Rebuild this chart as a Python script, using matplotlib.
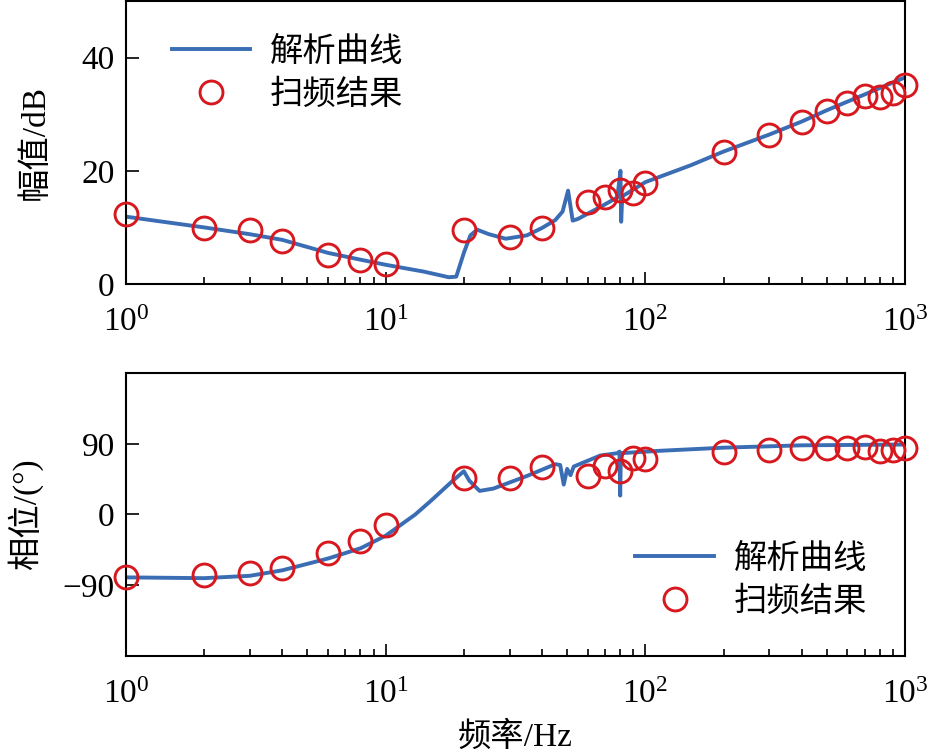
import numpy as np
import matplotlib
matplotlib.use("Agg")
import matplotlib.pyplot as plt
from matplotlib.ticker import LogLocator, NullFormatter

plt.rcParams['font.family'] = ['Liberation Serif', 'Noto Sans CJK SC']
plt.rcParams['mathtext.fontset'] = 'stix'
plt.rcParams['axes.unicode_minus'] = True

# analytical curve
f_mag = [1, 2, 3, 4, 6, 8, 10, 14, 17.5, 18.7, 20, 21.2, 22.5, 25, 29, 35, 40, 45,
         48, 50.4, 52.5, 55, 67, 78, 80.2, 80.7, 81.5, 90, 100, 150, 200, 300, 400,
         500, 700, 1000]
mag = [11.9, 10.0, 8.8, 7.8, 5.5, 4.3, 3.4, 2.2, 1.2, 1.3, 5.5, 8.6, 9.6, 8.8, 8.0,
       8.6, 9.9, 11.3, 12.8, 16.5, 11.2, 11.5, 13.6, 15.3, 20.0, 11.0, 15.5, 16.7,
       18.0, 21.0, 23.4, 26.4, 28.7, 30.7, 33.5, 36.5]

f_ph = [1, 2, 3, 4, 6, 8, 10, 13, 15, 18, 20, 21, 23, 26, 35, 45, 47, 48.5, 50,
        51.5, 53, 67, 78, 79.5, 80, 80.5, 90, 113, 200, 400, 1000]
phase = [-80, -81, -78, -71, -56, -43, -27, 0, 18, 42, 55, 43, 30, 33, 49, 64, 63,
         38, 58, 50, 61, 75, 78, 80, 24, 78, 79, 81, 85, 88, 89]

# frequency-sweep results
f_sweep = [1, 2, 3, 4, 6, 8, 10, 20, 30, 40, 60, 70, 80, 90, 100, 200, 300, 400,
           500, 600, 700, 800, 900, 1000]
mag_sweep = [12.4, 9.9, 9.6, 7.6, 5.1, 4.2, 3.5, 9.6, 8.3, 9.9, 14.5, 15.4, 16.6,
             16.1, 17.9, 23.4, 26.4, 28.7, 30.5, 31.9, 33.3, 33.1, 33.8, 35.2]
ph_sweep = [-80, -77, -75, -68, -49, -34, -13, 47, 47, 60, 49, 62, 55, 72, 71, 79,
            82, 84, 85, 85, 86, 81, 82, 84]

blue = '#3a6db4'
red = '#d7191f'
fs = 24

fig = plt.figure(figsize=(9.27, 7.56), dpi=100)
ax1 = fig.add_axes([0.1359, 0.6243, 0.8404, 0.3744])
ax2 = fig.add_axes([0.1359, 0.1323, 0.8404, 0.3743])

for ax, f, y, ys in [(ax1, f_mag, mag, mag_sweep), (ax2, f_ph, phase, ph_sweep)]:
    ax.plot(f, y, color=blue, lw=2.8, label='解析曲线')
    ax.plot(f_sweep, ys, 'o', ms=16.5, mfc='none', mec=red, mew=2.1,
            label='扫频结果', clip_on=False, zorder=3)
    ax.set_xscale('log')
    ax.set_xlim(1, 1000)
    ax.xaxis.set_minor_locator(LogLocator(base=10, subs=np.arange(2, 10)))
    ax.xaxis.set_minor_formatter(NullFormatter())
    ax.tick_params(which='major', direction='in', length=9, width=1.2, labelsize=fs)
    ax.tick_params(which='minor', direction='in', length=5, width=1.2)
    ax.tick_params(axis='x', which='major', pad=17)
    ax.tick_params(axis='y', which='major', pad=8)
    for s in ax.spines.values():
        s.set_linewidth(1.5)

ax1.set_ylim(0, 50)
ax1.set_yticks([0, 20, 40])
ax1.set_ylabel('幅值/dB', fontsize=fs, labelpad=22)
ax1.legend(loc='upper left', bbox_to_anchor=(0.02, 0.98), frameon=False, fontsize=fs,
           handlelength=2.35, handletextpad=0.6, labelspacing=0.35)

ax2.set_ylim(-180, 180)
ax2.set_yticks([-90, 0, 90])
ax2.set_ylabel('相位/(°)', fontsize=fs, labelpad=14)
ax2.set_xlabel('频率/Hz', fontsize=fs, labelpad=8)
ax2.legend(loc='lower right', bbox_to_anchor=(0.99, 0.03), frameon=False, fontsize=fs,
           handlelength=2.35, handletextpad=0.6, labelspacing=0.35)

fig.savefig('out.png', dpi=100)
